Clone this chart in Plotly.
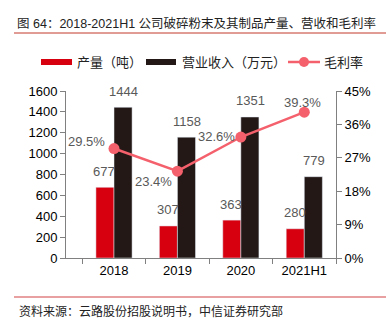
import plotly.graph_objects as go
from plotly.subplots import make_subplots

categories = ["2018", "2019", "2020", "2021H1"]
output_tons = [677, 307, 363, 280]
revenue_wan = [1444, 1158, 1351, 779]
gross_margin = [29.5, 23.4, 32.6, 39.3]
margin_labels = ["29.5%", "23.4%", "32.6%", "39.3%"]
left_ticks = [0, 200, 400, 600, 800, 1000, 1200, 1400, 1600]
right_ticks = [0, 9, 18, 27, 36, 45]
right_tick_labels = ["0%", "9%", "18%", "27%", "36%", "45%"]
legend_names = ["产量（吨）", "营业收入（万元）", "毛利率"]

RED = "#D7000F"
BLACK = "#231815"
PINK = "#F4606C"
GRAY = "#595959"
FONT = "Liberation Sans, Noto Sans CJK SC, sans-serif"

# plot area in pixels
L, R, T, B = 66, 336, 91, 258
def px_x(p):
    return (p - L) / (R - L)
def px_y(p):
    return (B - p) / (B - T)

BARGAP = 0.43
bar_px = (R - L) / len(categories) * (1 - BARGAP) / 2

fig = make_subplots(specs=[[{"secondary_y": True}]])

fig.add_trace(go.Bar(x=categories, y=output_tons, marker_color=RED, name=legend_names[0],
                     showlegend=False), secondary_y=False)
fig.add_trace(go.Bar(x=categories, y=revenue_wan, marker_color=BLACK, name=legend_names[1],
                     showlegend=False), secondary_y=False)
fig.add_trace(go.Scatter(x=categories, y=gross_margin, mode="lines+markers",
                         name=legend_names[2],
                         line=dict(color=PINK, width=2.5), marker=dict(color=PINK, size=11),
                         showlegend=False, cliponaxis=False), secondary_y=True)

fig.update_layout(
    width=386, height=323,
    margin=dict(l=L, r=386 - R, t=T, b=323 - B),
    paper_bgcolor="white", plot_bgcolor="white",
    barmode="group", bargap=BARGAP, bargroupgap=0,
    font=dict(family=FONT, size=13, color="#000000"),
    title=dict(text="图 64：2018-2021H1 公司破碎粉末及其制品产量、营收和毛利率",
               x=17 / 386, xanchor="left", y=1 - 24 / 323, yanchor="middle",
               font=dict(family=FONT, size=12.5, color="#222222")),
    showlegend=False,
)

fig.update_xaxes(type="category", categoryorder="array", categoryarray=categories,
                 domain=[0, 1],
                 showline=True, linecolor="#808080", linewidth=1,
                 ticks="outside", ticklen=5, tickcolor="#808080",
                 tickson="boundaries", showgrid=False,
                 tickfont=dict(family=FONT, size=13, color="#000000"))
fig.update_yaxes(range=[0, 1600], tickvals=left_ticks, showgrid=False,
                 showline=True, linecolor="#808080", linewidth=1,
                 ticks="outside", ticklen=5, tickcolor="#808080",
                 tickfont=dict(family=FONT, size=13, color="#000000"),
                 zeroline=False, secondary_y=False)
fig.update_yaxes(range=[0, 45], tickvals=right_ticks, ticktext=right_tick_labels,
                 showgrid=False, showline=True, linecolor="#808080", linewidth=1,
                 ticks="outside", ticklen=5, tickcolor="#808080",
                 tickfont=dict(family=FONT, size=13, color="#000000"),
                 zeroline=False, secondary_y=True)

# bar value labels (x given as category index on the category axis)
for i, v in enumerate(output_tons):
    fig.add_annotation(x=i, y=v, xref="x", yref="y", text=str(v), showarrow=False,
                       xshift=-bar_px / 2, yshift=16, yanchor="middle",
                       font=dict(family=FONT, size=13, color=GRAY))
for i, v in enumerate(revenue_wan):
    fig.add_annotation(x=i, y=v, xref="x", yref="y", text=str(v), showarrow=False,
                       xshift=bar_px / 2, yshift=16, yanchor="middle",
                       font=dict(family=FONT, size=13, color=GRAY))

# margin labels
label_offsets = [("right", -7, 7), ("right", -3, -10), ("right", -4, 1), ("center", -2, 10)]
for i, (v, lab, (anc, dx, dy)) in enumerate(zip(gross_margin, margin_labels, label_offsets)):
    fig.add_annotation(x=i, y=v, xref="x", yref="y2", text=lab, showarrow=False,
                       xanchor=anc, xshift=dx, yshift=dy, yanchor="middle",
                       font=dict(family=FONT, size=13, color=GRAY))

# custom legend
ly = 62
fig.add_shape(type="rect", xref="paper", yref="paper",
              x0=px_x(41), x1=px_x(72), y0=px_y(ly + 3), y1=px_y(ly - 3),
              fillcolor=RED, line=dict(width=0))
fig.add_shape(type="rect", xref="paper", yref="paper",
              x0=px_x(146), x1=px_x(176), y0=px_y(ly + 3), y1=px_y(ly - 3),
              fillcolor=BLACK, line=dict(width=0))
fig.add_shape(type="line", xref="paper", yref="paper",
              x0=px_x(288), x1=px_x(320), y0=px_y(ly), y1=px_y(ly),
              line=dict(color=PINK, width=2.5))
fig.add_shape(type="circle", xref="paper", yref="paper",
              x0=px_x(299), x1=px_x(309), y0=px_y(ly + 5), y1=px_y(ly - 5),
              fillcolor=PINK, line=dict(width=0))
for name, x0 in zip(legend_names, [75, 180, 322]):
    fig.add_annotation(text=name, xref="paper", yref="paper",
                       x=px_x(x0), xanchor="left", y=px_y(ly), yanchor="middle",
                       showarrow=False, font=dict(family=FONT, size=13, color="#222222"))

# title underline and footer line
fig.add_shape(type="line", xref="paper", yref="paper",
              x0=px_x(14), x1=px_x(386), y0=px_y(33), y1=px_y(33),
              line=dict(color="#C0392B", width=1))
fig.add_shape(type="line", xref="paper", yref="paper",
              x0=px_x(14), x1=px_x(386), y0=px_y(297), y1=px_y(297),
              line=dict(color="#E8A0A0", width=2))
fig.add_annotation(text="资料来源：云路股份招股说明书，中信证券研究部",
                   xref="paper", yref="paper",
                   x=px_x(17), xanchor="left", y=px_y(311), yanchor="middle",
                   showarrow=False, font=dict(family=FONT, size=12, color="#222222"))

fig.write_html("out.html")
